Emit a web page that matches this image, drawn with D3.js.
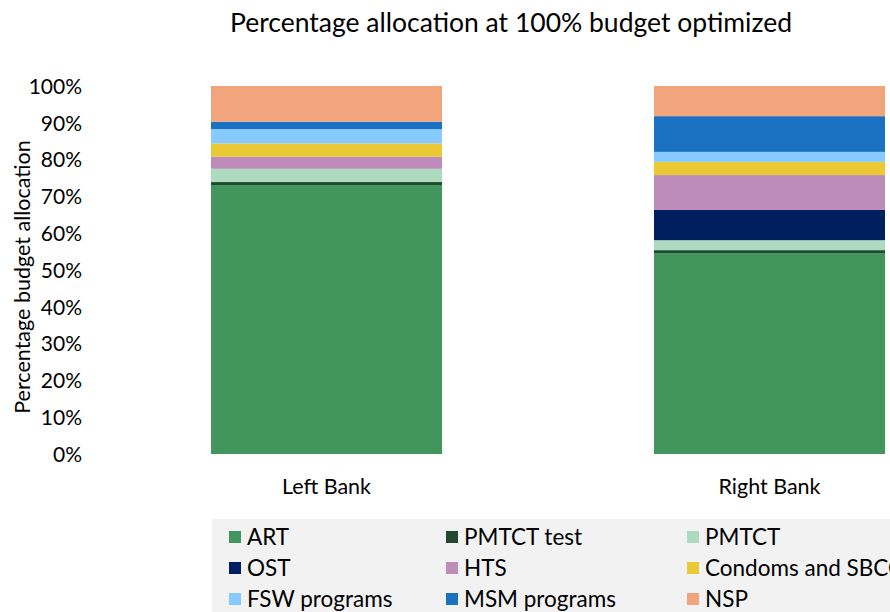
<!DOCTYPE html>
<html lang="en">
<head>
  <meta charset="UTF-8">
  <title>Percentage allocation</title>
  <style>
    body { margin: 0; background: #fff; overflow: hidden; }
    svg { display: block; font-family: Lato, "Open Sans", sans-serif; }
  </style>
</head>
<body>
  <div id="chart"></div>
  <script src="https://d3js.org/d3.v7.min.js"></script>
  <script>
    var categories = ['Left Bank', 'Right Bank']
    var programs = ['ART', 'PMTCT test', 'PMTCT', 'OST', 'HTS', 'Condoms and SBCC', 'FSW programs', 'MSM programs', 'NSP']
    var colors = ['#43955e', '#234a30', '#addbbf', '#001f5f', '#bd8cbb', '#ebc934', '#87cafd', '#1b71c1', '#f2a47d']
    // share (%) for each program, left bank then right bank
    var leftBank = [73.1, 0.8, 3.6, 0, 3.3, 3.6, 3.9, 2.0, 9.7]
    var rightBank = [54.6, 0.8, 2.7, 8.2, 9.5, 3.6, 2.7, 9.7, 8.2]
    var yTicks = [0, 10, 20, 30, 40, 50, 60, 70, 80, 90, 100]

    var width = 890, height = 612
    var svg = d3.select('#chart').append('svg')
      .attr('width', width)
      .attr('height', height)

    var rows = categories.map(function (c, i) {
      var vals = i === 0 ? leftBank : rightBank
      var r = { cat: c }
      programs.forEach(function (p, j) { r[p] = vals[j] })
      return r
    })

    var x = d3.scaleBand()
      .domain(categories)
      .range([105, 991])
      .paddingInner(0.4786)
      .paddingOuter(0.2393)
    var y = d3.scaleLinear().domain([0, 100]).range([454, 86])
    var color = d3.scaleOrdinal().domain(programs).range(colors)

    var stack = d3.stack().keys(programs)(rows)

    svg.append('g')
      .selectAll('g')
      .data(stack)
      .enter()
      .append('g')
        .attr('fill', function (d) { return color(d.key) })
      .selectAll('rect')
      .data(function (d) { return d })
      .enter()
      .append('rect')
        .attr('x', function (d) { return x(d.data.cat) })
        .attr('width', x.bandwidth())
        .attr('y', function (d) { return y(d[1]) })
        .attr('height', function (d) { return y(d[0]) - y(d[1]) })

    // y axis, labels only
    var yAxis = d3.axisLeft(y)
      .tickValues(yTicks)
      .tickSize(0)
      .tickPadding(0)
      .tickFormat(function (d) { return d + '%' })
    var gy = svg.append('g')
      .attr('transform', 'translate(82,0)')
      .call(yAxis)
    gy.select('.domain').remove()
    gy.selectAll('text')
      .attr('font-family', 'Lato, sans-serif')
      .attr('font-size', 21)
      .attr('fill', '#000')
      .attr('dy', '0.35em')

    // x axis labels
    var xAxis = d3.axisBottom(x).tickSize(0).tickPadding(0)
    var gx = svg.append('g')
      .attr('transform', 'translate(0,486)')
      .call(xAxis)
    gx.select('.domain').remove()
    gx.selectAll('text')
      .attr('font-family', 'Lato, sans-serif')
      .attr('font-size', 21.5)
      .attr('fill', '#000')
      .attr('dy', '0.35em')

    svg.append('text')
      .attr('x', 511)
      .attr('y', 23)
      .attr('dy', '0.35em')
      .attr('text-anchor', 'middle')
      .attr('font-size', 26.5)
      .text('Percentage allocation at 100% budget optimized')

    svg.append('text')
      .attr('transform', 'translate(22,277) rotate(-90)')
      .attr('dy', '0.35em')
      .attr('text-anchor', 'middle')
      .attr('font-size', 21.5)
      .text('Percentage budget allocation')

    // legend
    var legend = svg.append('g')
    legend.append('rect')
      .attr('x', 212)
      .attr('y', 519)
      .attr('width', 700)
      .attr('height', 100)
      .attr('fill', '#f2f2f2')
    var colX = [229, 446, 687], rowY = [537, 568, 599]
    var item = legend.selectAll('g.item')
      .data(programs)
      .enter()
      .append('g')
        .attr('class', 'item')
        .attr('transform', function (d, i) {
          return 'translate(' + colX[i % 3] + ',' + rowY[Math.floor(i / 3)] + ')'
        })
    item.append('rect')
      .attr('x', 0)
      .attr('y', -6)
      .attr('width', 12)
      .attr('height', 12)
      .attr('fill', function (d) { return color(d) })
    item.append('text')
      .attr('x', 18)
      .attr('dy', '0.35em')
      .attr('font-size', 22.5)
      .text(function (d) { return d })
  </script>
</body>
</html>
